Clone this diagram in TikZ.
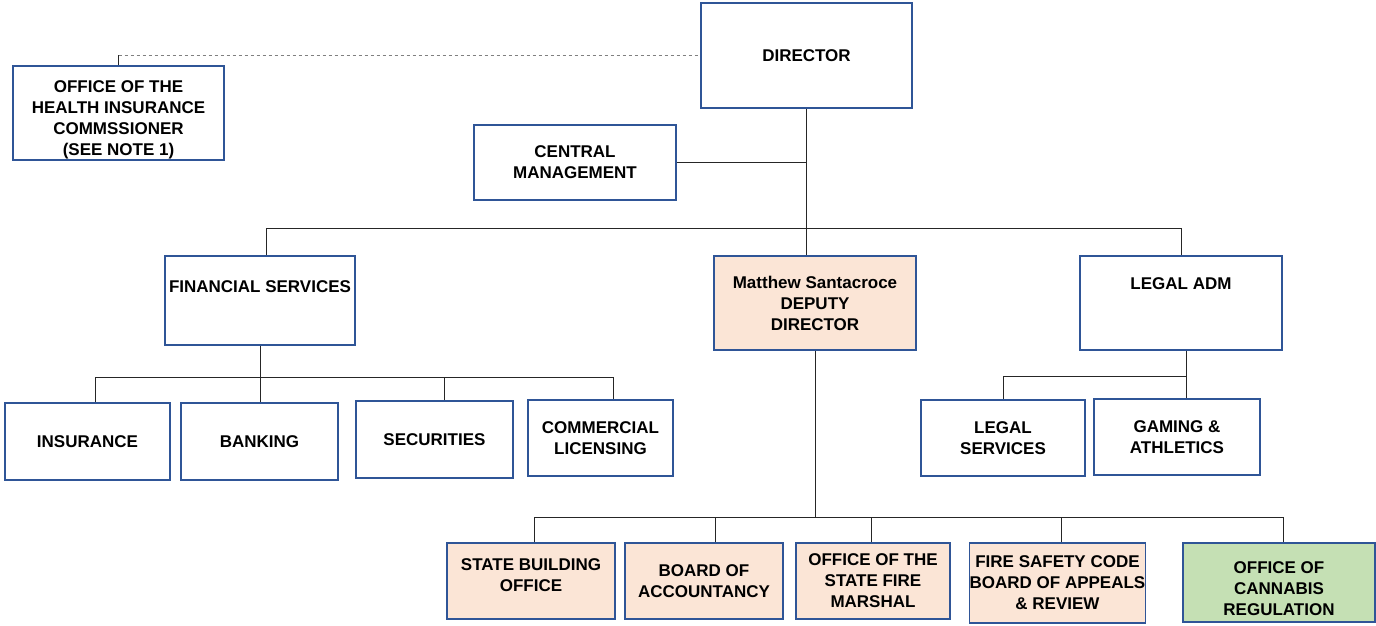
\documentclass[tikz,border=0pt]{standalone}
\usepackage{fontspec}
\setmainfont{Liberation Sans}
\definecolor{boxblue}{HTML}{2F5597}
\definecolor{peach}{HTML}{FBE5D6}
\definecolor{leaf}{HTML}{C5E0B4}
\tikzset{
  unit/.style={draw=boxblue, line width=1.6pt, fill=white, align=center, inner sep=0pt,
    font=\fontsize{17}{21}\selectfont\bfseries},
  office/.style={unit, fill=peach},
  link/.style={draw=black!85, line width=0.9pt}
}
\begin{document}
\begin{tikzpicture}[x=1pt, y=-1pt]
				\useasboundingbox (0,0) rectangle (1376,626);
				% top level
				\node[unit, minimum width=211pt, minimum height=105pt] (dir) at (806.5,55.5) {DIRECTOR};
				\node[unit, minimum width=211pt, minimum height=94pt] (ohic) at (118.5,113) {\rule{0pt}{25pt}OFFICE OF THE\\HEALTH INSURANCE\\COMMSSIONER\\(SEE NOTE 1)};
				\node[unit, minimum width=202pt, minimum height=75pt] (cm) at (575,162.5) {CENTRAL\\MANAGEMENT};
				% divisions
				\node[unit, minimum width=190pt, minimum height=89pt, text depth=27pt] (fin) at (260,300.5) {FINANCIAL SERVICES};
				\node[office, minimum width=202pt, minimum height=94pt] (dep) at (815,303) {Matthew Santacroce\\DEPUTY\\DIRECTOR};
				\node[unit, minimum width=202pt, minimum height=94pt, text depth=38pt] (ladm) at (1181,303) {LEGAL ADM};
				% financial services
				\node[unit, minimum width=165pt, minimum height=77pt] (ins) at (87.5,441.5) {INSURANCE};
				\node[unit, minimum width=157pt, minimum height=77pt] (bank) at (259.5,441.5) {BANKING};
				\node[unit, minimum width=157pt, minimum height=77pt] (sec) at (434.5,439.5) {SECURITIES};
				\node[unit, minimum width=145pt, minimum height=76pt] (com) at (600.5,438) {COMMERCIAL\\LICENSING};
				% legal
				\node[unit, minimum width=164pt, minimum height=76pt] (lsv) at (1003,438) {LEGAL\\SERVICES};
				\node[unit, minimum width=166pt, minimum height=76pt] (gam) at (1177,437) {GAMING \&\\ATHLETICS};
				% deputy director offices
				\node[office, minimum width=168pt, minimum height=76pt] (sbo) at (531,581) {STATE BUILDING\\OFFICE\rule[-11pt]{0pt}{11pt}};
				\node[office, minimum width=158pt, minimum height=76pt] (boa) at (704,581) {BOARD OF\\ACCOUNTANCY};
				\node[office, minimum width=154pt, minimum height=76pt] (osfm) at (873,581) {OFFICE OF THE\\STATE FIRE\\MARSHAL};
				\node[office, minimum width=173pt, minimum height=80pt] (fsc) at (1057.5,583) {FIRE SAFETY CODE\\BOARD OF APPEALS\\\& REVIEW};
				\node[unit, fill=leaf, minimum width=192pt, minimum height=79pt] (ocr) at (1279,582.5) {\rule{0pt}{25pt}OFFICE OF\\CANNABIS\\REGULATION};
				% drop points
				\coordinate (fin-top) at ([xshift=6pt]fin.north);
				\coordinate (ins-top) at ([xshift=8pt]ins.north);
				\coordinate (sec-top) at ([xshift=10pt]sec.north);
				\coordinate (com-top) at ([xshift=13pt]com.north);
				\coordinate (ladm-bot) at ([xshift=5pt]ladm.south);
				\coordinate (sbo-top) at ([xshift=3pt]sbo.north);
				\coordinate (boa-top) at ([xshift=11pt]boa.north);
				\coordinate (osfm-top) at ([xshift=-2pt]osfm.north);
				\coordinate (fsc-top) at ([xshift=4pt]fsc.north);
				\coordinate (ocr-top) at ([xshift=4pt]ocr.north);
				% connectors
				\coordinate (hic-bend) at (ohic.north |- dir.west);
				\draw[link] (ohic.north) -- (hic-bend);
				\draw[link, dashed, gray] (hic-bend) -- (dir.west);
				\draw[link] (dir.south) -- (dir.south |- dep.north);
				\draw[link] (cm.east) -- (cm.east -| dir.south);
				\coordinate (bus-top) at (0,228);
				\draw[link] (fin-top) |- (bus-top -| ladm.north) -- (ladm.north);
				\coordinate (bus-fin) at (0,377);
				\draw[link] (fin.south) -- (fin.south |- bank.north);
				\draw[link] (ins-top) |- (bus-fin -| com-top) -- (com-top);
				\draw[link] (sec-top) -- (sec-top |- bus-fin);
				\coordinate (bus-leg) at (0,376);
				\draw[link] (ladm-bot) -- (ladm-bot |- gam.north);
				\draw[link] (lsv.north) |- (ladm-bot |- bus-leg);
				\coordinate (bus-dep) at (0,517);
				\draw[link] (dep.south) -- (dep.south |- bus-dep);
				\draw[link] (sbo-top) |- (bus-dep -| ocr-top) -- (ocr-top);
				\draw[link] (boa-top) -- (boa-top |- bus-dep);
				\draw[link] (osfm-top) -- (osfm-top |- bus-dep);
				\draw[link] (fsc-top) -- (fsc-top |- bus-dep);
			\end{tikzpicture}
\end{document}
